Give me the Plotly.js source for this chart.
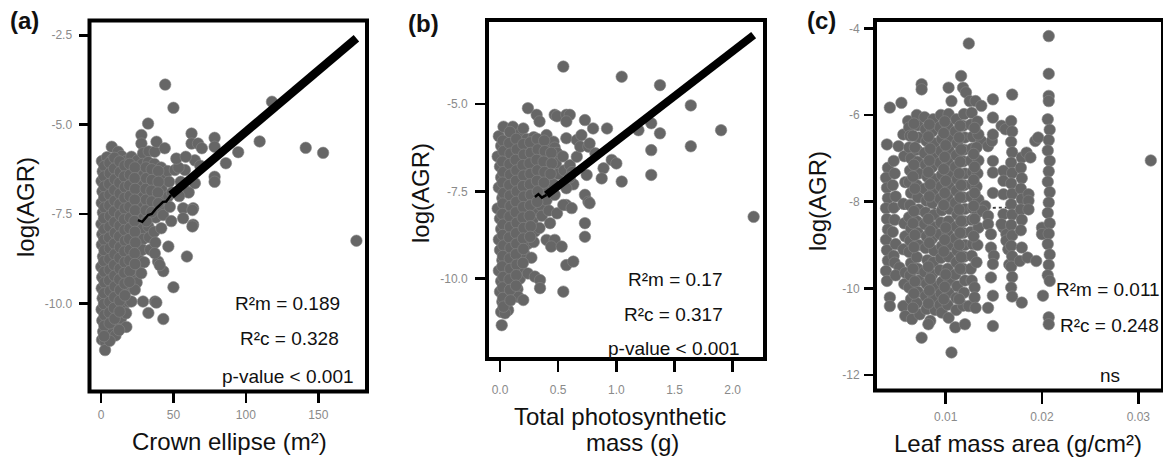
<!DOCTYPE html>
<html><head><meta charset="utf-8">
<script src="https://cdn.plot.ly/plotly-3.0.1.min.js"></script>
<style>html,body{margin:0;padding:0;background:#fff}#chart{width:1163px;height:457px}</style>
</head><body><div id="chart"></div>
<script>
// ---------- Panel (a): Crown ellipse (m²) vs log(AGR) ----------
const crownX = [
0.6,1.2,0.4,1.0,0.5,1.3,0.3,0.9,0.6,1.4,0.2,0.8,0.5,1.1,0.4,0.9,1.5,0.7,
4.2,3.8,4.5,3.6,4.1,4.8,3.9,4.4,3.7,4.6,4.0,3.5,4.3,3.9,4.7,3.6,4.2,3.0,2.8,
7.4,7.8,7.1,8.0,7.3,7.9,7.0,7.7,8.2,7.2,7.6,8.1,7.3,7.8,7.1,7.9,6.8,7.5,
11.8,11.2,10.8,11.5,10.9,11.4,11.0,11.7,10.7,11.3,11.1,10.6,11.5,10.9,11.2,10.5,11.6,
14.2,14.8,14.4,15.0,14.1,14.7,14.3,14.9,14.0,14.6,15.1,14.2,14.8,14.4,15.2,13.8,
17.5,18.2,17.8,18.5,17.6,18.3,17.9,18.6,17.4,18.1,17.7,18.4,17.8,18.9,17.3,
21.0,21.8,21.3,22.0,21.5,21.2,21.9,21.4,22.1,21.1,21.7,21.3,22.3,21.0,
25.2,24.8,25.5,25.0,25.6,24.7,25.3,25.8,24.9,25.4,25.9,24.6,
27.9,27.9,29.0,28.6,29.4,28.8,29.2,28.5,29.6,28.9,29.3,28.7,29.8,29.0,
32.5,33.0,32.6,33.4,32.8,33.5,32.9,33.6,32.7,33.3,34.0,32.7,
37.1,38.3,36.8,37.4,36.9,37.6,37.0,37.8,36.7,37.5,39.4,37.3,
44.0,41.5,42.2,41.8,42.6,42.0,42.9,41.6,43.0,43.0,
44.3,50.0,46.0,47.0,46.5,47.5,46.5,50.0,51.0,49.0,48.5,
57.9,56.7,63.6,56.7,63.6,60.2,64.8,64.8,62.5,62.5,67.0,60.5,63.1,63.1,59.3,55.0,54.0,53.5,68.5,69.6,52.0,58.5,
78.4,78.4,78.4,78.4,86.2,94.7,109.5,118.0,141.3,153.3,176.3,
17.5,23.3,27.8,40.5,37.1,10.0,6.0,12.5,38.2,
2.3,2.1,2.4,2.2,2.5,2.0,2.3,2.2,2.4,2.1,2.3,2.5,2.2,2.0,2.4,2.3,2.1,
5.9,6.1,5.7,6.0,5.8,6.2,5.9,5.6,6.1,5.8,6.0,5.7,6.2,5.9,5.8,6.0,
9.3,9.1,9.5,9.2,9.4,9.0,9.3,9.6,9.2,9.4,9.1,9.3,9.5,9.2,9.0,9.4,
12.9,13.1,12.7,13.0,12.8,13.2,12.9,12.6,13.1,12.8,13.0,12.7,13.2,12.9,12.8,
16.3,16.1,16.5,16.2,16.4,16.0,16.3,16.6,16.2,16.4,16.1,16.3,16.5,
19.8,20.0,19.6,19.9,19.7,20.1,19.8,19.5,20.0,19.7,19.9,19.6,
23.4,23.2,23.6,23.3,23.5,23.1,23.4,23.7,23.2,23.5,
31.0,31.2,30.8,31.1,30.9,31.3,
35.0,35.2,34.8,35.1,34.9,
39.5,39.7,39.3,39.6];
const crownY = [
-6.02,-6.31,-6.58,-6.87,-7.19,-7.46,-7.78,-8.07,-8.36,-8.69,-8.98,-9.27,-9.58,-9.86,-10.17,-10.48,-10.79,-11.02,
-5.91,-6.17,-6.46,-6.74,-7.05,-7.33,-7.63,-7.94,-8.22,-8.53,-8.84,-9.12,-9.43,-9.72,-10.03,-10.33,-10.64,-11.08,-11.31,
-5.62,-5.98,-6.29,-6.61,-6.92,-7.21,-7.52,-7.81,-8.12,-8.41,-8.72,-9.01,-9.33,-9.62,-9.93,-10.22,-10.53,-10.84,
-5.76,-6.08,-6.39,-6.68,-6.99,-7.28,-7.58,-7.89,-8.18,-8.49,-8.79,-9.08,-9.39,-9.68,-9.99,-10.31,-10.6,
-5.88,-6.19,-6.49,-6.8,-7.1,-7.39,-7.7,-8.0,-8.31,-8.6,-8.91,-9.2,-9.5,-9.81,-10.1,-10.42,
-6.01,-6.3,-6.61,-6.9,-7.21,-7.5,-7.81,-8.1,-8.4,-8.71,-9.0,-9.3,-9.61,-9.95,-10.28,
-5.9,-6.21,-6.5,-6.81,-7.1,-7.4,-7.7,-8.01,-8.3,-8.6,-8.9,-9.21,-9.55,-9.95,
-6.0,-6.35,-6.62,-6.91,-7.2,-7.5,-7.8,-8.1,-8.4,-8.7,-9.1,-9.42,
-5.29,-5.53,-5.8,-6.1,-6.4,-6.7,-7.0,-7.3,-7.6,-7.9,-8.2,-8.5,-8.85,-9.95,
-4.97,-5.75,-6.05,-6.35,-6.65,-6.95,-7.25,-7.55,-7.85,-8.15,-8.5,-10.27,
-5.76,-5.48,-6.1,-6.4,-6.7,-7.0,-7.3,-7.6,-8.0,-8.3,-8.83,-9.95,
-5.66,-6.2,-6.5,-6.8,-7.1,-7.4,-7.53,-7.9,-9.1,-10.44,
-3.88,-4.53,-6.3,-6.6,-7.0,-7.3,-8.41,-9.55,-6.27,-6.9,-7.7,
-6.27,-7.34,-7.34,-7.62,-7.8,-6.88,-6.64,-6.0,-5.25,-5.53,-5.53,-6.9,-7.39,-7.85,-8.69,-6.6,-7.0,-6.2,-6.15,-5.66,-5.95,-5.9,
-5.37,-5.62,-6.46,-6.6,-6.08,-5.77,-5.47,-4.36,-5.65,-5.79,-8.25,
-10.66,-9.62,-9.16,-8.93,-8.6,-10.9,-11.05,-10.75,-9.98,
-6.16,-6.45,-6.73,-7.03,-7.32,-7.62,-7.93,-8.22,-8.52,-8.82,-9.12,-9.42,-9.72,-10.02,-10.33,-10.63,-10.92,
-6.07,-6.36,-6.66,-6.96,-7.26,-7.56,-7.86,-8.16,-8.46,-8.76,-9.06,-9.36,-9.66,-9.96,-10.26,-10.56,
-5.93,-6.23,-6.53,-6.83,-7.13,-7.43,-7.73,-8.03,-8.33,-8.63,-8.93,-9.23,-9.53,-9.83,-10.13,-10.43,
-6.03,-6.33,-6.63,-6.93,-7.23,-7.53,-7.83,-8.13,-8.43,-8.73,-9.03,-9.33,-9.63,-9.93,-10.23,
-6.15,-6.45,-6.75,-7.05,-7.35,-7.65,-7.95,-8.25,-8.55,-8.85,-9.15,-9.45,-9.78,
-6.1,-6.4,-6.7,-7.0,-7.3,-7.6,-7.9,-8.2,-8.5,-8.8,-9.1,-9.4,
-6.2,-6.5,-6.8,-7.1,-7.4,-7.7,-8.0,-8.3,-8.6,-8.9,
-6.2,-6.5,-6.8,-7.1,-7.4,-7.7,
-6.25,-6.55,-6.85,-7.15,-7.45,
-6.3,-6.6,-6.9,-7.2];
const crownFitX = [48.4, 176.3];
const crownFitY = [-6.97, -2.58];
const crownWispX = [25.5, 28.5, 32.5, 35.0, 38.2, 42.8, 45.0, 48.4];
const crownWispY = [-7.67, -7.72, -7.53, -7.5, -7.34, -7.16, -7.15, -6.97];

// ---------- Panel (b): Total photosynthetic mass (g) vs log(AGR) ----------
const massX = [
-0.01,0.01,-0.02,0.0,0.01,-0.01,0.02,-0.02,0.0,0.01,-0.01,0.0,0.02,-0.01,0.01,0.0,0.02,0.01,
0.03,0.06,0.05,0.04,0.07,0.05,0.06,0.04,0.05,0.07,0.04,0.06,0.05,0.04,0.06,0.05,0.07,0.015,
0.11,0.12,0.10,0.11,0.13,0.10,0.12,0.11,0.13,0.10,0.12,0.11,0.10,0.12,0.11,0.12,0.11,0.07,0.043,
0.17,0.16,0.18,0.17,0.15,0.18,0.16,0.17,0.19,0.16,0.18,0.17,0.16,0.18,0.17,0.15,0.157,0.2,
0.24,0.2,0.23,0.22,0.24,0.21,0.23,0.22,0.24,0.21,0.23,0.22,0.24,0.21,0.24,
0.315,0.29,0.28,0.3,0.29,0.28,0.3,0.29,0.31,0.28,0.3,0.29,0.27,0.3,
0.34,0.35,0.36,0.34,0.35,0.36,0.34,0.35,0.36,0.34,0.344,0.344,
0.4,0.42,0.41,0.4,0.42,0.41,0.4,0.42,0.43,0.4,0.47,0.44,
0.47,0.49,0.46,0.47,0.49,0.48,0.5,0.46,0.47,0.49,
0.544,0.57,0.60,0.57,0.57,0.66,0.70,0.54,0.55,0.60,0.62,0.63,0.60,0.66,0.69,0.76,0.73,0.80,0.92,0.77,
0.82,0.89,0.96,1.0,0.874,0.745,0.57,0.73,0.76,0.73,0.73,0.57,0.544,0.616,0.77,0.53,0.57,0.63,0.544,
1.046,1.375,1.64,1.90,1.64,1.30,1.30,1.046,2.18,1.375,1.30,1.19,
0.025,0.03,0.02,0.028,0.022,0.03,0.025,0.02,0.027,0.023,0.03,0.025,0.02,0.028,0.024,0.026,0.03,
0.085,0.08,0.09,0.082,0.088,0.08,0.086,0.09,0.083,0.087,0.08,0.09,0.084,0.088,0.082,0.086,0.09,
0.14,0.145,0.135,0.142,0.138,0.145,0.14,0.136,0.144,0.139,0.141,0.137,0.143,0.14,0.138,
0.2,0.205,0.195,0.202,0.198,0.205,0.2,0.196,0.204,0.199,0.201,0.197,
0.26,0.265,0.255,0.262,0.258,0.265,0.26,0.256,0.264,0.259,
0.32,0.325,0.315,0.322,0.318,0.325,0.32,
0.38,0.385,0.375,0.382,0.378,
0.44,0.445,0.435];
const massY = [
-5.92,-6.2,-6.5,-6.79,-7.1,-7.39,-7.69,-7.99,-8.28,-8.58,-8.88,-9.18,-9.47,-9.77,-10.07,-10.37,-10.66,-10.95,
-5.65,-6.05,-6.35,-6.64,-6.95,-7.24,-7.54,-7.84,-8.13,-8.43,-8.73,-9.03,-9.32,-9.62,-9.92,-10.22,-10.52,-11.33,
-5.65,-5.98,-6.27,-6.57,-6.87,-7.16,-7.46,-7.76,-8.06,-8.35,-8.65,-8.95,-9.25,-9.54,-9.84,-10.14,-10.45,-10.9,-10.99,
-5.85,-6.12,-6.42,-6.72,-7.01,-7.31,-7.61,-7.91,-8.2,-8.5,-8.8,-9.1,-9.4,-9.7,-10.0,-10.3,-10.52,-10.61,
-5.12,-5.7,-6.0,-6.3,-6.6,-6.9,-7.2,-7.5,-7.8,-8.1,-8.4,-8.7,-9.0,-9.3,-9.85,
-5.31,-5.95,-6.25,-6.55,-6.85,-7.15,-7.45,-7.75,-8.05,-8.35,-8.65,-8.95,-9.4,-9.94,
-5.5,-6.1,-6.4,-6.7,-7.0,-7.3,-7.6,-7.9,-8.2,-8.55,-10.04,-10.27,
-5.89,-6.25,-6.55,-6.85,-7.15,-7.45,-7.75,-8.05,-8.41,-8.89,-8.89,-9.08,
-5.31,-5.35,-6.08,-6.25,-6.4,-6.7,-7.0,-7.3,-7.6,-8.13,
-3.93,-5.31,-5.31,-5.5,-5.98,-6.03,-5.89,-6.5,-6.9,-6.75,-6.95,-7.3,-7.1,-6.51,-6.22,-6.22,-5.46,-5.7,-5.7,-6.13,
-6.41,-6.84,-6.6,-6.7,-7.13,-7.03,-7.41,-7.6,-7.8,-8.41,-8.8,-7.89,-7.89,-7.98,-7.84,-9.08,-9.61,-9.51,-10.37,
-4.22,-4.46,-5.04,-5.75,-6.21,-6.32,-7.03,-7.22,-8.23,-5.84,-5.55,-5.75,
-6.05,-6.35,-6.65,-6.95,-7.25,-7.55,-7.85,-8.15,-8.45,-8.75,-9.05,-9.35,-9.65,-9.95,-10.25,-10.55,-10.8,
-5.8,-6.12,-6.42,-6.72,-7.02,-7.32,-7.62,-7.92,-8.22,-8.52,-8.82,-9.12,-9.42,-9.72,-10.02,-10.32,-10.62,
-6.0,-6.3,-6.6,-6.9,-7.2,-7.5,-7.8,-8.1,-8.4,-8.7,-9.0,-9.3,-9.6,-9.9,-10.2,
-6.15,-6.45,-6.75,-7.05,-7.35,-7.65,-7.95,-8.25,-8.55,-8.85,-9.15,-9.55,
-6.1,-6.4,-6.7,-7.0,-7.3,-7.6,-7.9,-8.2,-8.5,-8.8,
-6.0,-6.3,-6.6,-6.9,-7.2,-7.5,-7.8,
-6.05,-6.35,-6.65,-6.95,-7.25,
-6.4,-6.7,-7.0];
const massFitX = [0.40, 2.18];
const massFitY = [-7.6, -3.03];
const massWispX = [0.30, 0.33, 0.36, 0.40];
const massWispY = [-7.66, -7.58, -7.68, -7.6];

// ---------- Panel (c): Leaf mass area (g/cm²) vs log(AGR) ----------
const lmaX = [
0.0042,0.0039,0.0040,0.0038,0.0039,0.0040,0.0038,0.0039,0.0040,0.0038,0.0039,0.0040,0.0038,0.0039,0.0042,0.0042,
0.0054,0.0051,0.0046,0.0047,0.0045,0.0048,0.0046,0.0047,0.0045,0.0048,0.0046,0.0047,0.0052,0.0048,
0.0056,0.0057,0.0058,0.0056,0.0057,0.0058,0.0056,0.0058,0.0057,0.0056,0.0058,
0.0061,0.0062,0.0063,0.0062,0.0064,0.0063,0.0062,0.0064,0.0063,0.0062,0.0064,0.0063,0.0062,0.0064,0.0063,0.0062,0.0064,0.0065,
0.0075,0.0075,0.0070,0.0071,0.0072,0.0070,0.0071,0.0072,0.0070,0.0071,0.0072,0.0070,0.0071,0.0072,0.0070,0.0071,0.0072,0.0071,0.0070,0.0073,0.0075,
0.0078,0.0079,0.0080,0.0078,0.0079,0.0081,0.0078,0.0080,0.0079,0.0078,0.0080,0.0079,0.0081,0.0078,0.0080,0.0079,0.0080,0.0084,0.0082,
0.0087,0.0086,0.0088,0.0087,0.0086,0.0088,0.0087,0.0086,0.0088,0.0087,0.0086,0.0088,0.0087,0.0086,0.0088,0.0087,0.0089,
0.0095,0.0094,0.0096,0.0095,0.0094,0.0096,0.0095,0.0094,0.0096,0.0095,0.0094,0.0096,0.0095,0.0094,0.0096,0.0095,0.0094,0.0096,
0.0103,0.0106,0.0103,0.0102,0.0104,0.0103,0.0102,0.0104,0.0103,0.0102,0.0104,0.0103,0.0102,0.0104,0.0103,0.0102,0.0104,0.0103,0.0102,0.0103,
0.0111,0.0110,0.0112,0.0111,0.0110,0.0112,0.0111,0.0110,0.0112,0.0111,0.0110,0.0112,0.0111,0.0110,0.0112,0.0111,0.0111,0.0110,0.0106,
0.0116,0.0118,0.0121,0.0119,0.0118,0.0120,0.0119,0.0118,0.0120,0.0119,0.0118,0.0120,0.0119,0.0118,0.0120,0.0119,0.0118,0.0120,0.0119,0.0118,0.0120,
0.0124,0.0125,0.0127,0.0126,0.0128,0.0127,0.0126,0.0128,0.0127,0.0126,0.0128,0.0127,0.0126,0.0128,0.0127,0.0126,0.0127,0.0124,
0.0131,0.0137,0.0133,0.0137,0.0134,0.0132,0.0134,0.0133,0.0132,0.0134,0.0133,0.0134,0.0133,0.0132,0.0130,0.0130,0.0131,
0.0144,0.0148,0.0149,0.0149,0.0149,0.0149,0.0149,0.0149,0.0141,0.0138,0.0144,0.0144,0.0147,0.0147,0.0150,0.0149,0.0147,0.0144,0.0149,0.0149,
0.0158,0.0162,0.0160,0.0160,0.0160,0.0160,0.0160,0.0163,0.0163,0.0158,0.0165,0.0166,
0.0169,0.0168,0.0169,0.0168,0.0169,0.0168,0.0169,0.0168,0.0169,0.0168,0.0169,0.0168,0.0169,0.0168,0.0169,0.0168,0.0169,0.0168,0.0169,
0.0179,0.0178,0.0179,0.0178,0.0179,0.0178,0.0179,0.0178,0.0179,0.0184,0.0188,0.0186,0.0186,0.0186,0.0177,0.0185,0.0194,0.0193,0.0196,0.0200,0.0200,0.0201,0.0179,
0.0207,0.0207,0.0207,0.0207,0.0206,0.0208,0.0207,0.0206,0.0208,0.0207,0.0206,0.0208,0.0207,0.0206,0.0208,0.0207,0.0206,0.0208,0.0207,0.0206,0.0208,0.0207,0.0207,
0.0313,
0.0067,0.0066,0.0068,0.0067,0.0066,0.0068,0.0067,0.0066,0.0068,0.0067,0.0066,0.0068,0.0067,0.0066,
0.0083,0.0082,0.0084,0.0083,0.0082,0.0084,0.0083,0.0082,0.0084,0.0083,0.0082,0.0084,0.0083,0.0082,
0.0099,0.0098,0.0100,0.0099,0.0098,0.0100,0.0099,0.0098,0.0100,0.0099,0.0098,0.0100,0.0099,0.0098,
0.0115,0.0114,0.0116,0.0115,0.0114,0.0116,0.0115,0.0114,0.0116,0.0115,0.0114,0.0116,0.0115,0.0114,
0.0130,0.0129,0.0130,0.0129,0.0130,0.0129,0.0130,0.0129];
const lmaY = [
-5.83,-6.68,-7.22,-7.45,-7.68,-7.92,-8.15,-8.4,-8.64,-8.88,-9.12,-9.36,-9.6,-9.83,-10.21,-10.41,
-5.72,-6.72,-7.06,-7.35,-7.62,-7.88,-8.14,-8.42,-8.7,-8.98,-9.25,-9.41,-9.52,-9.7,
-6.45,-6.95,-7.55,-8.05,-8.5,-8.8,-9.1,-9.64,-9.9,-10.41,-10.64,
-6.14,-6.29,-6.48,-6.75,-7.0,-7.28,-7.55,-7.8,-8.08,-8.36,-8.62,-8.9,-9.16,-9.42,-9.7,-9.98,-10.25,-10.71,
-5.29,-5.41,-6.0,-6.24,-6.52,-6.8,-7.08,-7.35,-7.62,-7.9,-8.18,-8.45,-8.72,-9.0,-9.28,-9.55,-9.82,-10.08,-10.34,-10.6,-11.14,
-6.05,-6.33,-6.6,-6.88,-7.15,-7.43,-7.7,-7.98,-8.25,-8.52,-8.8,-9.07,-9.35,-9.62,-9.9,-10.18,-10.48,-10.75,-10.83,
-6.1,-6.38,-6.65,-6.93,-7.2,-7.48,-7.75,-8.03,-8.3,-8.58,-8.85,-9.13,-9.4,-9.68,-9.95,-10.22,-10.5,
-6.0,-6.28,-6.55,-6.83,-7.1,-7.38,-7.65,-7.93,-8.2,-8.48,-8.75,-9.03,-9.3,-9.58,-9.85,-10.12,-10.38,-10.56,
-5.37,-5.68,-5.98,-6.25,-6.52,-6.8,-7.07,-7.35,-7.62,-7.9,-8.17,-8.45,-8.72,-9.0,-9.27,-9.55,-9.82,-10.1,-10.38,-10.68,
-6.1,-6.38,-6.65,-6.93,-7.2,-7.48,-7.75,-8.03,-8.3,-8.58,-8.85,-9.13,-9.4,-9.68,-9.95,-10.22,-10.5,-10.9,-11.48,
-5.1,-5.37,-5.48,-5.98,-6.25,-6.52,-6.8,-7.07,-7.35,-7.62,-7.9,-8.17,-8.45,-8.72,-9.0,-9.27,-9.55,-9.82,-10.1,-10.4,-10.83,
-4.35,-5.68,-5.95,-6.22,-6.5,-6.78,-7.05,-7.32,-7.6,-7.88,-8.15,-8.42,-8.7,-8.98,-9.25,-9.55,-9.82,-10.41,
-5.68,-5.79,-6.15,-6.6,-6.45,-6.75,-7.05,-7.35,-7.65,-7.95,-8.25,-8.6,-9.0,-9.4,-9.98,-10.21,-10.45,
-6.72,-6.6,-5.64,-6.06,-6.45,-7.06,-7.33,-7.8,-8.1,-8.21,-8.33,-8.52,-8.75,-9.06,-9.25,-9.44,-9.75,-10.45,-10.87,-10.17,
-6.25,-6.33,-7.29,-7.52,-7.83,-8.29,-8.6,-8.75,-8.9,-8.52,-9.1,-9.45,
-5.53,-6.14,-6.38,-6.62,-6.86,-7.1,-7.34,-7.58,-7.82,-8.06,-8.3,-8.54,-8.78,-9.02,-9.26,-9.5,-9.74,-9.98,-10.19,
-6.98,-7.22,-7.46,-7.7,-7.94,-8.18,-8.42,-8.66,-9.06,-6.87,-6.98,-7.83,-7.98,-8.18,-9.37,-9.29,-9.37,-6.6,-6.52,-8.6,-8.75,-10.17,-10.33,
-4.18,-5.05,-5.56,-5.68,-6.1,-6.34,-6.58,-6.82,-7.06,-7.3,-7.54,-7.78,-8.02,-8.26,-8.5,-8.74,-8.98,-9.22,-9.46,-9.7,-9.83,-10.67,-10.83,
-7.05,
-6.2,-6.48,-6.75,-7.15,-7.42,-7.7,-8.22,-8.5,-8.77,-9.05,-9.55,-9.84,-10.12,-10.45,
-6.22,-6.5,-6.78,-7.05,-7.32,-7.6,-7.88,-8.4,-8.68,-8.95,-9.5,-9.78,-10.05,-10.35,
-6.15,-6.42,-6.7,-6.97,-7.25,-7.52,-7.8,-8.08,-8.6,-8.88,-9.15,-9.68,-9.97,-10.25,
-6.25,-6.52,-6.8,-7.08,-7.35,-7.62,-7.9,-8.18,-8.45,-8.72,-9.0,-9.28,-9.55,-10.25,
-6.3,-6.9,-7.2,-7.5,-7.8,-8.1,-8.4,-8.8];
const lmaFlatX = [0.0043, 0.0192];
const lmaFlatY = [-8.17, -8.13];

// ---------- Tick labels ----------
const crownTicks = [0, 50, 100, 150];
const crownTickText = ['0', '50', '100', '150'];
const agrTicksA = [-2.5, -5, -7.5, -10];
const agrTickTextA = ['-2.5', '-5.0', '-7.5', '-10.0'];
const massTicks = [0, 0.5, 1, 1.5, 2];
const massTickText = ['0.0', '0.5', '1.0', '1.5', '2.0'];
const agrTicksB = [-5, -7.5, -10];
const agrTickTextB = ['-5.0', '-7.5', '-10.0'];
const lmaTicks = [0.01, 0.02, 0.03];
const lmaTickText = ['0.01', '0.02', '0.03'];
const agrTicksC = [-4, -6, -8, -10, -12];
const agrTickTextC = ['-4', '-6', '-8', '-10', '-12'];

// ---------- Drawing ----------
const W = 1163, H = 457;
const fx = p => p / W, fy = p => 1 - p / H;
const FONT = 'Liberation Sans, Arial, sans-serif';
const PT = '#666666';

function pts(x, y, xa, ya) {
  return {type: 'scatter', mode: 'markers', x: x, y: y, xaxis: xa, yaxis: ya,
    marker: {size: 11.5, color: PT, line: {color: '#858585', width: 0.6}}, hoverinfo: 'skip'};
}
function ln(x, y, xa, ya, w, color, dash) {
  return {type: 'scatter', mode: 'lines', x: x, y: y, xaxis: xa, yaxis: ya,
    line: {color: color, width: w, dash: dash || 'solid'}, hoverinfo: 'skip'};
}

const data = [
  ln(lmaFlatX, lmaFlatY, 'x3', 'y3', 1.8, '#3a3a3a', 'dot'),
  pts(crownX, crownY, 'x', 'y'),
  pts(massX, massY, 'x2', 'y2'),
  pts(lmaX, lmaY, 'x3', 'y3'),
  ln(crownWispX, crownWispY, 'x', 'y', 2.5, '#000'),
  ln(crownFitX, crownFitY, 'x', 'y', 8.5, '#000'),
  ln(massWispX, massWispY, 'x2', 'y2', 2.5, '#000'),
  ln(massFitX, massFitY, 'x2', 'y2', 8, '#000')
];

function ax(extra) {
  return Object.assign({showgrid: false, zeroline: false, showline: false, ticks: 'outside',
    ticklen: 10, tickwidth: 2.5, tickcolor: '#000', tickmode: 'array', fixedrange: true,
    tickfont: {family: FONT, size: 12, color: '#8a8a8a'}}, extra);
}

const layout = {
  width: W, height: H, autosize: false, showlegend: false,
  margin: {l: 0, r: 0, t: 0, b: 0, pad: 0},
  paper_bgcolor: '#fff', plot_bgcolor: '#fff',
  font: {family: FONT, color: '#111'},
  xaxis: ax({domain: [fx(89.5), fx(367)], range: [-7.94, 183.6], anchor: 'y',
    tickvals: crownTicks, ticktext: crownTickText, ticklen: 10, ticklabelstandoff: 2}),
  yaxis: ax({domain: [fy(391.5), fy(20.5)], range: [-12.468, -2.086], anchor: 'x',
    tickvals: agrTicksA, ticktext: agrTickTextA, ticklabelstandoff: 4}),
  xaxis2: ax({domain: [fx(487), fx(765)], range: [-0.1117, 2.2776], anchor: 'y2',
    tickvals: massTicks, ticktext: massTickText, ticklen: 12, ticklabelstandoff: 8}),
  yaxis2: ax({domain: [fy(359), fy(20)], range: [-12.298, -2.596], anchor: 'x2',
    tickvals: agrTicksB, ticktext: agrTickTextB, ticklen: 11, ticklabelstandoff: 5}),
  xaxis3: ax({domain: [fx(875), 1], range: [0.002658, 0.032565], anchor: 'y3',
    tickvals: lmaTicks, ticktext: lmaTickText, ticklen: 12, ticklabelstandoff: 3}),
  yaxis3: ax({domain: [fy(390.5), fy(20)], range: [-12.358, -3.8085], anchor: 'x3',
    tickvals: agrTicksC, ticktext: agrTickTextC, ticklabelstandoff: 2}),
  shapes: [['x', 'y'], ['x2', 'y2'], ['x3', 'y3']].map(function (p) {
    return {type: 'rect', xref: p[0] + ' domain', yref: p[1] + ' domain', x0: 0, x1: 1, y0: 0, y1: 1,
      line: {color: '#000', width: 4}, fillcolor: 'rgba(0,0,0,0)', layer: 'above'};
  }),
  annotations: []
};

function note(text, px, py, size, opts) {
  layout.annotations.push(Object.assign({text: text, x: fx(px), y: fy(py), xref: 'paper', yref: 'paper',
    showarrow: false, xanchor: 'center', yanchor: 'middle',
    font: {family: FONT, size: size, color: '#111'}}, opts || {}));
}
// panel labels
note('<b>(a)</b>', 24, 21, 24);
note('<b>(b)</b>', 423, 24, 24);
note('<b>(c)</b>', 821, 21, 24);
// y titles
note('log(AGR)', 25, 207, 24, {textangle: -90});
note('log(AGR)', 420, 193, 24, {textangle: -90});
note('log(AGR)', 817, 201, 24, {textangle: -90});
// x titles
note('Crown ellipse (m²)', 230, 441, 24);
note('Total photosynthetic', 620, 416, 24);
note('mass (g)', 632, 442, 24);
note('Leaf mass area (g/cm²)', 1018, 443, 24);
// statistics
note('R²m = 0.189', 287, 303, 19);
note('R²c = 0.328', 289, 338, 19);
note('p-value &lt; 0.001', 288, 376, 19);
note('R²m = 0.17', 675, 279, 19);
note('R²c = 0.317', 673, 314, 19);
note('p-value &lt; 0.001', 674, 348, 19);
note('R²m = 0.011', 1054, 289, 19, {xanchor: 'left'});
note('R²c = 0.248', 1058, 325, 19, {xanchor: 'left'});
note('ns', 1110, 375, 19);

Plotly.newPlot('chart', data, layout, {staticPlot: true, displayModeBar: false});
</script>
</body></html>
